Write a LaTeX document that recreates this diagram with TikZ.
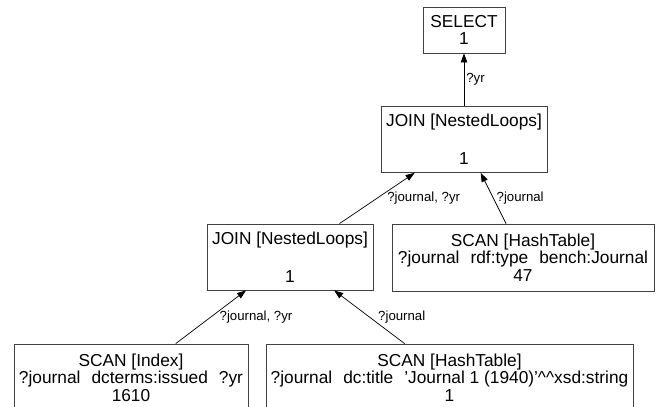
\documentclass[tikz,border=0pt]{standalone}
\usepackage{fontspec}
\setmainfont{Liberation Sans}
\usetikzlibrary{arrows.meta}
\newcommand{\gp}{\hspace{0.64em}}
\begin{document}
\begin{tikzpicture}[x=1pt,y=-1pt,
  box/.style={draw=black!75, line width=0.8pt, align=center, inner sep=0pt,
    font=\fontsize{17.3}{17.5}\selectfont},
  joinbox/.style={box, minimum width=166pt, minimum height=66pt,
    font=\fontsize{17.3}{19}\selectfont},
  scanbox/.style={box, minimum height=67pt},
  conn/.style={draw=black, line width=0.7pt, -{Triangle[length=9pt,width=6.5pt]}},
  lbl/.style={font=\fontsize{13.2}{15}\selectfont, inner sep=0pt, anchor=west, midway}]
\clip (0,0) rectangle (657,407);
\node[box, minimum width=82pt, minimum height=46pt] (sel) at (464,30) {SELECT\\1};
\node[joinbox] (join1) at (464,139.5) {JOIN [NestedLoops]\\[19pt]1};
\node[joinbox] (join2) at (290,257) {JOIN [NestedLoops]\\[19pt]1};
\node[scanbox, minimum width=262pt] (scanj) at (523,257.5)
  {SCAN [HashTable]\\?journal\gp rdf:type\gp bench:Journal\\47};
\node[scanbox, minimum width=234pt] (scani) at (131,377.5)
  {SCAN [Index]\\?journal\gp dcterms:issued\gp ?yr\\1610};
\node[scanbox, minimum width=367pt] (scant) at (449.5,377.5)
  {SCAN [HashTable]\\?journal\gp dc:title\gp ’Journal 1 (1940)’\textasciicircum\textasciicircum xsd:string\\1};
\draw[conn] (join1) -- (sel) node[lbl, xshift=2pt] {?yr};
\draw[conn] (join2) -- (join1) node[lbl, xshift=10pt] {?journal, ?yr};
\draw[conn] (scanj) -- (join1) node[lbl, xshift=3pt] {?journal};
\draw[conn] (scani) -- (join2) node[lbl, xshift=8.5pt] {?journal, ?yr};
\draw[conn] (scant) -- (join2) node[lbl, xshift=8.5pt] {?journal};
\end{tikzpicture}
\end{document}
